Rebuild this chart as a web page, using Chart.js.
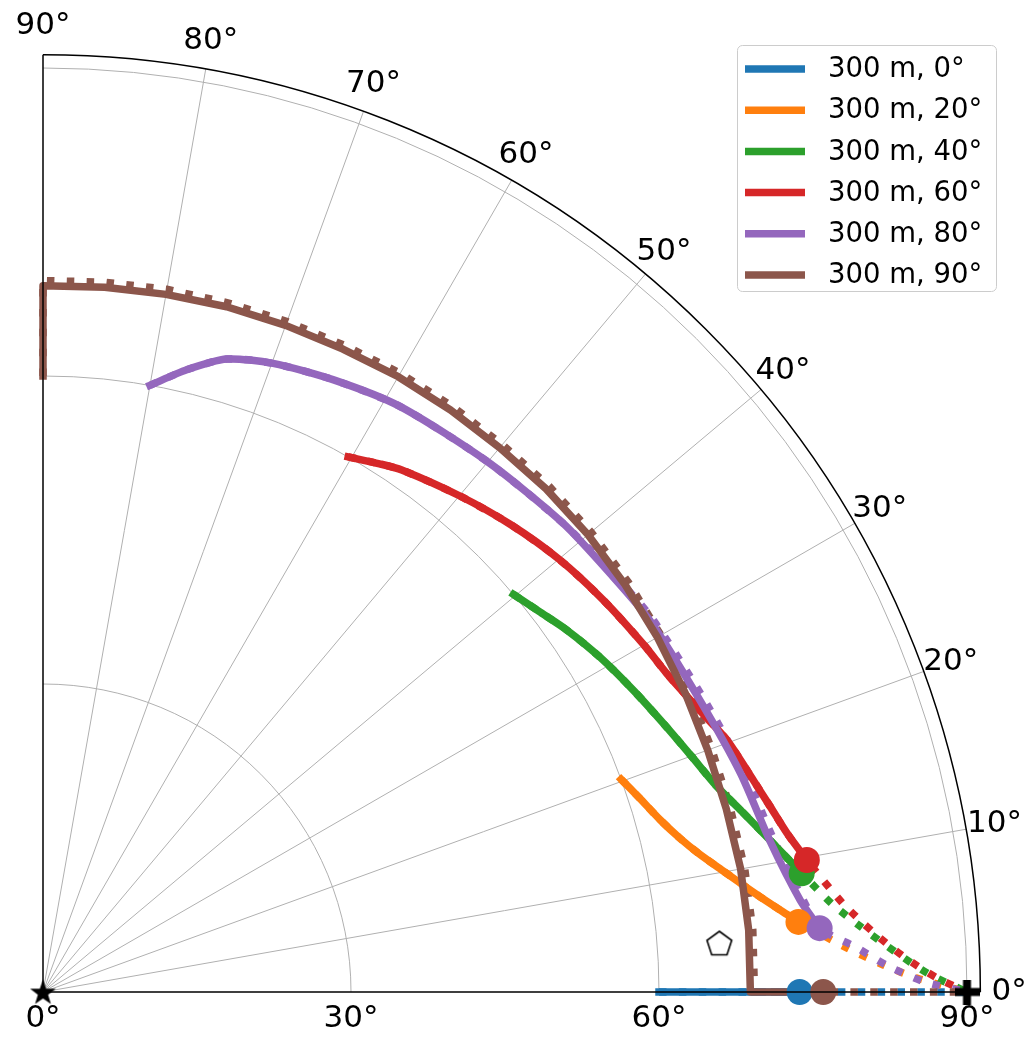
<!DOCTYPE html>
<html>
<head>
<meta charset="utf-8">
<script src="https://cdn.jsdelivr.net/npm/chart.js@4.4.1/dist/chart.umd.min.js"></script>
<style>
  html, body { margin: 0; padding: 0; background: #ffffff; }
  canvas { display: block; }
</style>
</head>
<body>
<canvas id="chart" width="1027" height="1037" style="width:1027px;height:1037px"></canvas>
<script>
// ---- Data: every path is a list of [radius°, bearing°] pairs ----
const seriesLabels = ['300 m, 0°', '300 m, 20°', '300 m, 40°', '300 m, 60°', '300 m, 80°', '300 m, 90°'];
const seriesColors = ['#1f77b4', '#ff7f0e', '#2ca02c', '#d62728', '#9467bd', '#8c564b'];

// Tracked paths (solid)
const track0 = [[60, 0], [73.7, 0]];
const track20 = [[60.0, 20.2], [61.1, 18.0], [62.4, 15.6], [63.8, 13.6], [65.3, 11.9], [67.4, 10.0],
                 [69.6, 8.2], [71.4, 6.9], [73.1, 5.8], [73.9, 5.3]];
const track40 = [[60.0, 40.2], [60.9, 37.5], [62.0, 34.7], [63.3, 31.0], [64.6, 27.0], [66.0, 23.0],
                 [67.2, 20.0], [68.6, 17.0], [70.3, 14.5], [72.1, 12.1], [73.4, 10.5], [74.8, 8.9]];
const track60 = [[60.0, 60.3], [61.0, 57.5], [61.7, 55.5], [63.1, 50], [64.4, 45], [65.6, 40], [66.6, 35],
                 [67.6, 30], [68.2, 27.1], [69.6, 23.2], [71.0, 20.2], [72.2, 16.6], [73.1, 14.3],
                 [74.1, 12.05], [75.5, 9.8]];
const track80 = [[60, 80], [62.2, 77], [64.2, 73.8], [65.2, 69.9], [66.0, 64.6], [66.8, 58.6], [67.4, 50],
                 [68.2, 42], [68.7, 36], [69.3, 31.5], [70.0, 24.0], [71.2, 17.4], [72.3, 11.8], [74.3, 6.9], [75.9, 4.7]];
const track90 = [[60, 90], [68.8, 90], [68.9, 85], [69.0, 80], [69.1, 75], [69.1, 70], [69.1, 65], [69.2, 60],
                 [69.2, 55], [69.2, 50], [69.3, 45], [69.3, 40], [69.2, 35], [69.1, 30], [69.0, 25], [68.9, 20],
                 [68.9, 15], [69.0, 10], [69.0, 5], [68.9, 0], [76.0, 0]];

// Continuations from the end of each track to the target (dotted)
const ext20 = [[78.5, 3.1], [81.9, 1.84], [85.2, 0.9], [90, 0]];
const ext40 = [[77.3, 6.4], [80.0, 4.5], [83.1, 2.7], [86.2, 1.2], [90, 0]];
const ext60 = [[78.4, 6.3], [81.1, 4.1], [84.0, 2.3], [87.1, 0.9], [90, 0]];

// Full predicted paths (dotted)
const full0 = [[60, 0], [90, 0]];
const full80 = [[60, 80], [62.2, 77], [64.2, 73.8], [65.2, 69.9], [66.0, 64.6], [66.8, 58.6], [67.4, 50],
                [68.2, 42], [68.9, 36], [69.6, 31.5], [70.4, 24.0], [71.6, 17.4], [72.7, 11.8], [74.6, 6.9],
                [75.9, 4.7], [79.2, 3.2], [82.5, 1.7], [85.9, 0.65], [90, 0]];
const full90 = [[60, 90], [69.3, 90], [69.4, 85], [69.5, 80], [69.5, 75], [69.5, 70], [69.5, 65], [69.6, 60],
                [69.6, 55], [69.6, 50], [69.7, 45], [69.7, 40], [69.6, 35], [69.5, 30], [69.4, 25], [69.3, 20],
                [69.3, 15], [69.4, 10], [69.4, 5], [69.3, 0], [90, 0]];

// End points of the tracks, origin, target and reference mark
const endPoints = [[73.7, 0], [73.9, 5.3], [74.8, 8.9], [75.5, 9.8], [75.9, 4.7], [76.0, 0]];
const originPoint = [[0, 0]];
const targetPoint = [[90, 0]];
const referencePoint = [[66.05, 4.12]];

// Axes
const angleTicks = [0, 10, 20, 30, 40, 50, 60, 70, 80, 90];
const radialTicks = [0, 30, 60, 90];
const radialGrid = [30, 60, 90];
const radialMax = 91.3;

// ---- Layout ----
const W = 1027, H = 1037;
const centerPx = { x: 43, y: 992 };
const pxPerUnit = 924 / 90;
const FONT = '"DejaVu Sans", "Liberation Sans", sans-serif';

function toXY(p) {
  const t = p[1] * Math.PI / 180;
  return { x: p[0] * Math.cos(t), y: p[0] * Math.sin(t) };
}

// ---- Marker glyphs ----
function makeStar(size) {
  const c = document.createElement('canvas');
  c.width = c.height = size;
  const g = c.getContext('2d');
  const R = size / 2, r = R * 0.4, cx = size / 2, cy = size / 2 + 1;
  g.beginPath();
  for (let i = 0; i < 10; i++) {
    const rad = i % 2 === 0 ? R : r;
    const a = -Math.PI / 2 + i * Math.PI / 5;
    g.lineTo(cx + rad * Math.cos(a), cy + rad * Math.sin(a));
  }
  g.closePath();
  g.fillStyle = '#000';
  g.fill();
  return c;
}
function makePlus(size, arm) {
  const c = document.createElement('canvas');
  c.width = c.height = size;
  const g = c.getContext('2d');
  g.fillStyle = '#000';
  g.fillRect((size - arm) / 2, 0, arm, size);
  g.fillRect(0, (size - arm) / 2, size, arm);
  return c;
}
function makePentagon(size) {
  const c = document.createElement('canvas');
  c.width = c.height = size;
  const g = c.getContext('2d');
  const R = size / 2 - 2, cx = size / 2, cy = size / 2 + 1;
  g.beginPath();
  for (let i = 0; i < 5; i++) {
    const a = -Math.PI / 2 + i * 2 * Math.PI / 5;
    g.lineTo(cx + R * Math.cos(a), cy + R * Math.sin(a));
  }
  g.closePath();
  g.fillStyle = '#fff';
  g.fill();
  g.lineWidth = 1.6;
  g.strokeStyle = '#000';
  g.stroke();
  return c;
}

// ---- Datasets, listed bottom-to-top ----
const LW = 7.5;
const DOT = [LW, LW * 1.65];
const layers = [];

const fullPaths = [full0, track20.concat(ext20), track40.concat(ext40), track60.concat(ext60), full80, full90];
const trackPaths = [track0, track20, track40, track60, track80, track90];
// smoothing per series (the 90° track has sharp corners)
const pathTension = [0, 0.25, 0.25, 0.25, 0.25, 0];

fullPaths.forEach((path, i) => {
  layers.push({
    data: path.map(toXY), showLine: true, borderColor: seriesColors[i], borderWidth: LW,
    borderDash: DOT, borderCapStyle: 'butt', pointRadius: 0, tension: pathTension[i], fill: false
  });
});
trackPaths.forEach((path, i) => {
  layers.push({
    data: path.map(toXY), showLine: true, borderColor: seriesColors[i], borderWidth: LW,
    borderCapStyle: 'square', borderJoinStyle: 'round', pointRadius: 0, tension: pathTension[i], fill: false
  });
});
endPoints.forEach((p, i) => {
  layers.push({
    data: [toXY(p)], showLine: false, pointRadius: 13, pointBorderWidth: 0,
    pointBackgroundColor: seriesColors[i], pointBorderColor: seriesColors[i]
  });
});
layers.push({ data: referencePoint.map(toXY), showLine: false, pointStyle: makePentagon(30), pointRadius: 15 });
layers.push({ data: targetPoint.map(toXY), showLine: false, pointStyle: makePlus(25, 8), pointRadius: 13 });
layers.push({ data: originPoint.map(toXY), showLine: false, pointStyle: makeStar(27), pointRadius: 14 });

const datasets = layers.map((d, i) => Object.assign(d, { order: layers.length - i }));

// ---- Polar frame, labels and legend ----
const polarFrame = {
  id: 'polarFrame',
  beforeDatasetsDraw(chart) {
    const { ctx, scales: { x, y } } = chart;
    const cx = x.getPixelForValue(0), cy = y.getPixelForValue(0);
    const k = x.getPixelForValue(1) - cx;
    ctx.save();
    ctx.strokeStyle = '#b0b0b0';
    ctx.lineWidth = 1;
    angleTicks.forEach(a => {
      if (a === 0 || a === 90) return;
      const t = a * Math.PI / 180;
      ctx.beginPath();
      ctx.moveTo(cx, cy);
      ctx.lineTo(cx + radialMax * k * Math.cos(t), cy - radialMax * k * Math.sin(t));
      ctx.stroke();
    });
    radialGrid.forEach(r => {
      ctx.beginPath();
      ctx.arc(cx, cy, r * k, -Math.PI / 2, 0);
      ctx.stroke();
    });
    ctx.restore();
  },
  afterDatasetsDraw(chart) {
    const { ctx, scales: { x, y } } = chart;
    const cx = x.getPixelForValue(0), cy = y.getPixelForValue(0);
    const k = x.getPixelForValue(1) - cx;
    ctx.save();
    // frame
    ctx.strokeStyle = '#000';
    ctx.lineWidth = 1.5;
    ctx.beginPath();
    ctx.moveTo(cx, cy - radialMax * k);
    ctx.lineTo(cx, cy);
    ctx.lineTo(cx + radialMax * k, cy);
    ctx.stroke();
    ctx.beginPath();
    ctx.arc(cx, cy, radialMax * k, -Math.PI / 2, 0);
    ctx.stroke();

    // bearing labels
    ctx.fillStyle = '#000';
    ctx.font = '31px ' + FONT;
    ctx.textAlign = 'center';
    ctx.textBaseline = 'middle';
    const labelR = 94.1;
    angleTicks.forEach(a => {
      const t = a * Math.PI / 180;
      ctx.fillText(a + '°', cx + labelR * k * Math.cos(t), cy - labelR * k * Math.sin(t));
    });
    // radius labels
    radialTicks.forEach(r => {
      ctx.fillText(r + '°', cx + r * k, cy + 27);
    });

    // legend
    const box = { x: 737.5, y: 45.5, w: 259, h: 246, r: 5 };
    ctx.beginPath();
    ctx.moveTo(box.x + box.r, box.y);
    ctx.arcTo(box.x + box.w, box.y, box.x + box.w, box.y + box.h, box.r);
    ctx.arcTo(box.x + box.w, box.y + box.h, box.x, box.y + box.h, box.r);
    ctx.arcTo(box.x, box.y + box.h, box.x, box.y, box.r);
    ctx.arcTo(box.x, box.y, box.x + box.w, box.y, box.r);
    ctx.closePath();
    ctx.fillStyle = 'rgba(255,255,255,0.8)';
    ctx.fill();
    ctx.strokeStyle = '#cccccc';
    ctx.lineWidth = 1;
    ctx.stroke();

    ctx.font = '27.5px ' + FONT;
    ctx.textAlign = 'left';
    ctx.textBaseline = 'middle';
    seriesLabels.forEach((lab, i) => {
      const yy = 69 + 41.2 * i;
      ctx.strokeStyle = seriesColors[i];
      ctx.lineWidth = LW;
      ctx.lineCap = 'butt';
      ctx.beginPath();
      ctx.moveTo(745, yy);
      ctx.lineTo(805, yy);
      ctx.stroke();
      ctx.fillStyle = '#000';
      ctx.fillText(lab, 828, yy + 1);
    });
    ctx.restore();
  }
};

new Chart(document.getElementById('chart'), {
  type: 'scatter',
  data: { datasets },
  options: {
    responsive: false,
    devicePixelRatio: 1,
    animation: false,
    events: [],
    layout: { padding: 0, autoPadding: false },
    plugins: { legend: { display: false }, tooltip: { enabled: false }, title: { display: false } },
    scales: {
      x: { type: 'linear', display: false, min: -centerPx.x / pxPerUnit, max: (W - centerPx.x) / pxPerUnit },
      y: { type: 'linear', display: false, min: -(H - centerPx.y) / pxPerUnit, max: centerPx.y / pxPerUnit }
    }
  },
  plugins: [polarFrame]
});
</script>
</body>
</html>
